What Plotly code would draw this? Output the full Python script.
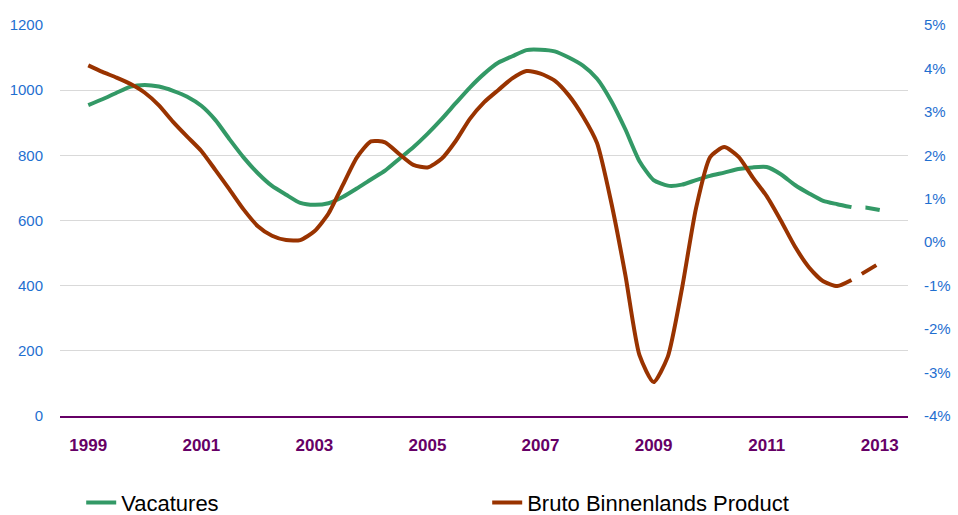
import plotly.graph_objects as go

periods = [1999 + 0.25 * i for i in range(57)]

vacatures = [954, 972, 992, 1011, 1016, 1011, 998, 980, 952, 908, 849, 793, 745, 706, 679, 654,
             648, 653, 672, 698, 726, 753, 789, 825, 866, 911, 960, 1008, 1050, 1084, 1104, 1123,
             1124, 1119, 1100, 1075, 1035, 967, 880, 782, 724, 707, 710, 724, 737, 747, 758, 763,
             764, 742, 709, 683, 660, 650, 641, 640, 632]

bbp = [4.07, 3.92, 3.79, 3.64, 3.44, 3.15, 2.77, 2.43, 2.10, 1.66, 1.21, 0.75, 0.37, 0.15, 0.05, 0.05,
       0.25, 0.66, 1.31, 1.95, 2.32, 2.30, 2.03, 1.78, 1.72, 1.92, 2.33, 2.84, 3.22, 3.50, 3.77, 3.94,
       3.88, 3.72, 3.38, 2.90, 2.28, 0.92, -0.75, -2.60, -3.22, -2.64, -1.08, 0.78, 1.96, 2.19, 1.97, 1.50,
       1.06, 0.50, -0.10, -0.58, -0.90, -1.01, -0.87, -0.68, -0.48]

n_solid = 55  # last points are a forecast (dashed)

x_ticks = [1999, 2001, 2003, 2005, 2007, 2009, 2011, 2013]
left_ticks = [0, 200, 400, 600, 800, 1000, 1200]
right_ticks = [-4, -3, -2, -1, 0, 1, 2, 3, 4, 5]

GREEN = "#339966"
BROWN = "#993300"
PURPLE = "#660066"
BLUE = "#1F6FD0"
FONT = "Liberation Sans, Arial, sans-serif"
LW = 4

fig = go.Figure()
fig.add_trace(go.Scatter(x=periods[:n_solid], y=vacatures[:n_solid], name="Vacatures",
                         mode="lines", line=dict(color=GREEN, width=LW, shape="spline", smoothing=0.6),
                         yaxis="y"))
fig.add_trace(go.Scatter(x=periods[n_solid - 1:], y=vacatures[n_solid - 1:], showlegend=False,
                         mode="lines", line=dict(color=GREEN, width=LW, dash="0px,14px,16px,40px"),
                         yaxis="y"))
fig.add_trace(go.Scatter(x=periods[:n_solid], y=bbp[:n_solid], name="Bruto Binnenlands Product",
                         mode="lines", line=dict(color=BROWN, width=LW, shape="spline", smoothing=0.6),
                         yaxis="y2"))
fig.add_trace(go.Scatter(x=periods[n_solid - 1:], y=bbp[n_solid - 1:], showlegend=False,
                         mode="lines", line=dict(color=BROWN, width=LW, dash="0px,12px,17px,40px"),
                         yaxis="y2"))

fig.update_layout(
    width=958, height=515,
    margin=dict(l=60, r=50, t=25, b=99, autoexpand=False),
    paper_bgcolor="white", plot_bgcolor="white",
    font=dict(family=FONT, size=15, color="black"),
    xaxis=dict(range=[1998.5, 2013.5], tickvals=x_ticks, ticktext=[str(t) for t in x_ticks],
               showgrid=False, zeroline=False, showline=True, linecolor=PURPLE, linewidth=2,
               ticks="", ticklabelstandoff=13, automargin=False,
               tickfont=dict(family=FONT, size=17, color=PURPLE, weight="bold")),
    yaxis=dict(range=[0, 1200], tickvals=left_ticks, showgrid=True, gridcolor="#D9D9D9", gridwidth=1,
               zeroline=False, showline=False, ticks="", ticklabelstandoff=16, automargin=False,
               tickfont=dict(family=FONT, size=15, color=BLUE)),
    yaxis2=dict(range=[-4, 5], tickvals=right_ticks, ticktext=[f"{v}%" for v in right_ticks],
                overlaying="y", side="right", showgrid=False, zeroline=False, showline=False,
                ticks="", ticklabelstandoff=15, automargin=False,
                tickfont=dict(family=FONT, size=15, color=BLUE)),
    legend=dict(orientation="h", x=0.025, xanchor="left", xref="paper",
                y=-0.222, yanchor="middle", yref="paper",
                entrywidth=361, font=dict(family=FONT, size=22, color="black"),
                bgcolor="rgba(0,0,0,0)"),
    showlegend=True,
)

fig.write_html("out.html", config={"displayModeBar": False},
               post_script="document.body.style.margin='0px';")
